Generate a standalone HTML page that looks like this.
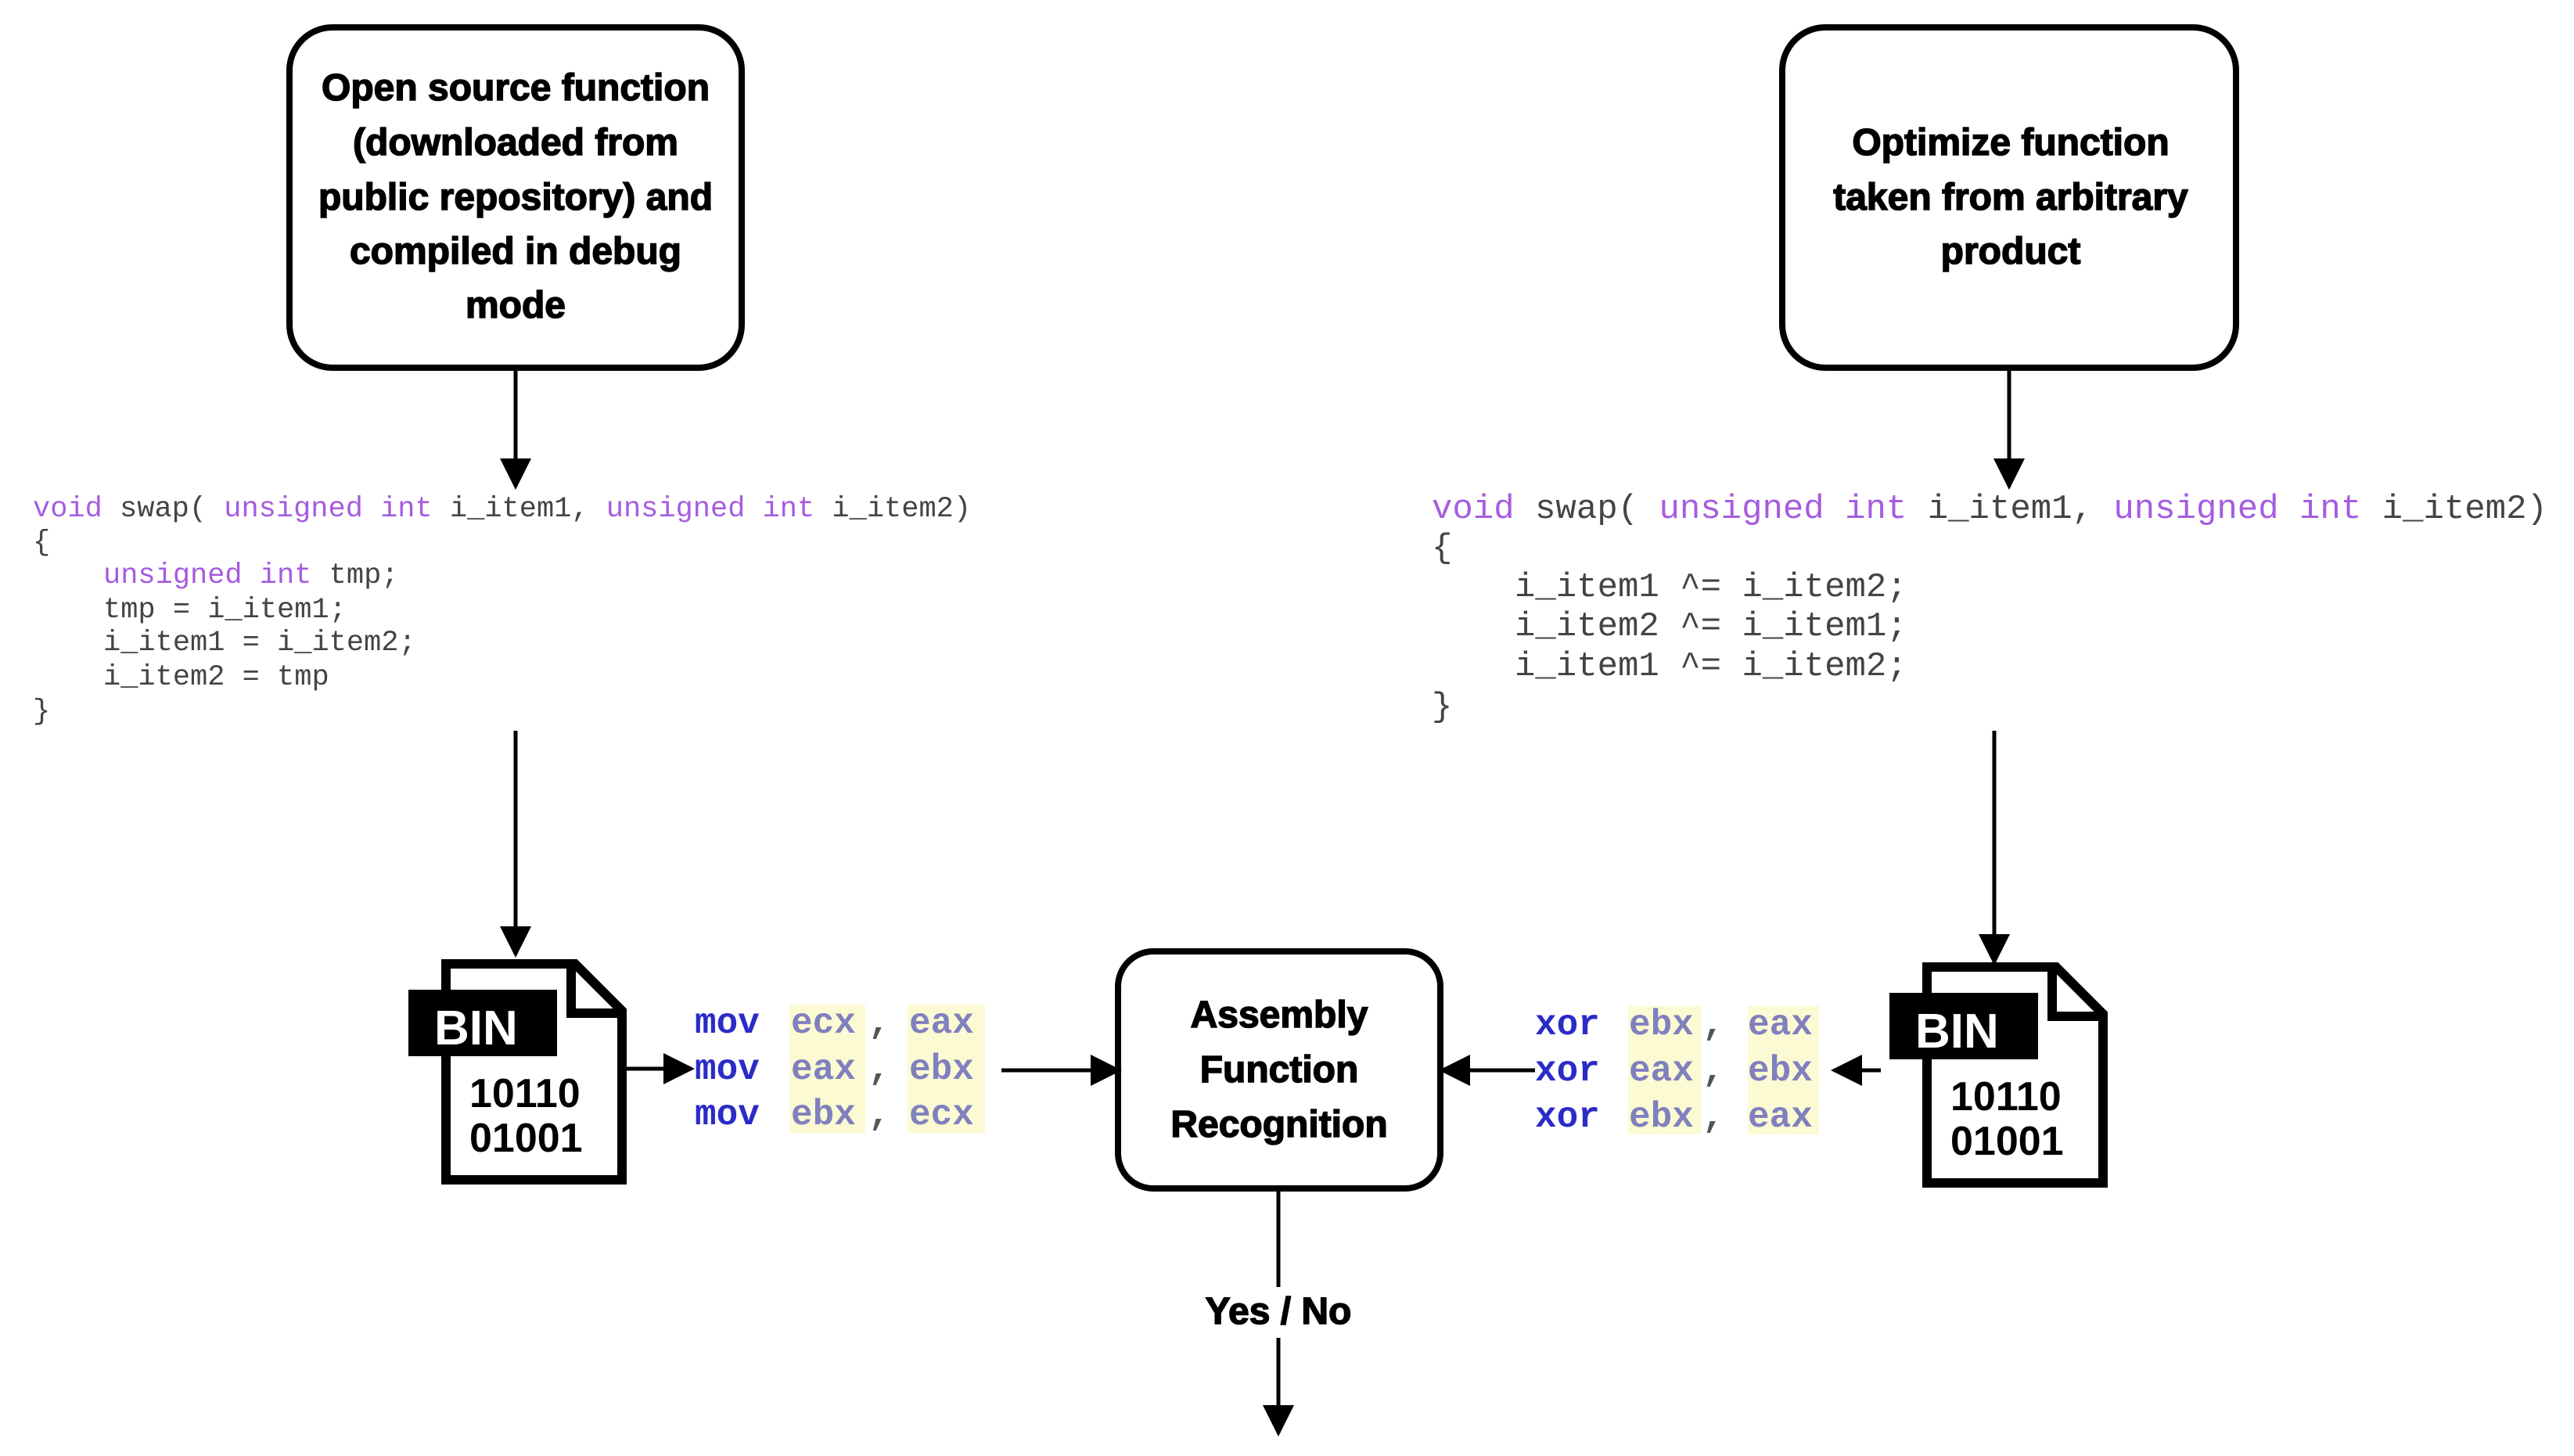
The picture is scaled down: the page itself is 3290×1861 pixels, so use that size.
<!DOCTYPE html>
<html><head><meta charset="utf-8"><style>
html,body{margin:0;padding:0;background:#fff;}
body{width:3290px;height:1861px;position:relative;overflow:hidden;}
svg{position:absolute;left:0;top:0;}
.b{font-family:"Liberation Sans",sans-serif;font-weight:bold;fill:#000;}
.m{font-family:"Liberation Mono",monospace;}
</style></head><body>
<svg width="3290" height="1861" viewBox="0 0 3290 1861">
<defs>
<marker id="ah" viewBox="0 0 10 10" refX="9" refY="5" markerWidth="8" markerHeight="8" markerUnits="strokeWidth" orient="auto"><path d="M0,0 L10,5 L0,10 z" fill="#000"/></marker>
</defs>
<rect x="370" y="35" width="578" height="435" rx="55" fill="#fff" stroke="#000" stroke-width="8"/>
<rect x="2278" y="35" width="580" height="435" rx="55" fill="#fff" stroke="#000" stroke-width="8"/>
<rect x="1429" y="1216" width="412" height="303" rx="45" fill="#fff" stroke="#000" stroke-width="8"/>
<g class="b" font-size="48" text-anchor="middle" stroke="#000" stroke-width="1.5">
<text x="659" y="128">Open source function</text>
<text x="659" y="198">(downloaded from</text>
<text x="659" y="268">public repository) and</text>
<text x="659" y="337">compiled in debug</text>
<text x="659" y="406">mode</text>
<text x="2570" y="198">Optimize function</text>
<text x="2570" y="268">taken from arbitrary</text>
<text x="2570" y="337">product</text>
<text x="1635" y="1313">Assembly</text>
<text x="1635" y="1383">Function</text>
<text x="1635" y="1453">Recognition</text>
<text x="1634" y="1692">Yes / No</text>
</g>
<g stroke="#000" stroke-width="5" fill="none" marker-end="url(#ah)">
<line x1="659" y1="472" x2="659" y2="622"/>
<line x1="2568" y1="472" x2="2568" y2="622"/>
<line x1="659" y1="934" x2="659" y2="1220"/>
<line x1="2549" y1="934" x2="2549" y2="1230"/>
<line x1="797" y1="1366" x2="884" y2="1366"/>
<line x1="1280" y1="1368" x2="1430" y2="1368"/>
<line x1="1962" y1="1368" x2="1843" y2="1368"/>
<line x1="2404" y1="1368" x2="2344" y2="1368"/>
<line x1="1634" y1="1710" x2="1634" y2="1832"/>
</g>
<line x1="1634" y1="1521" x2="1634" y2="1645" stroke="#000" stroke-width="5"/>
<g class="m" font-size="37" fill="#444">
<text x="42" y="660"><tspan fill="#a55ce0">void</tspan> swap( <tspan fill="#a55ce0">unsigned int</tspan> i_item1, <tspan fill="#a55ce0">unsigned int</tspan> i_item2)</text>
<text x="42" y="703">{</text>
<text x="132" y="745" fill="#a55ce0">unsigned int <tspan fill="#444">tmp;</tspan></text>
<text x="132" y="789">tmp = i_item1;</text>
<text x="132" y="831">i_item1 = i_item2;</text>
<text x="132" y="875">i_item2 = tmp</text>
<text x="42" y="919">}</text>
</g>
<g class="m" font-size="44" fill="#444">
<text x="1830" y="662"><tspan fill="#a55ce0">void</tspan> swap( <tspan fill="#a55ce0">unsigned int</tspan> i_item1, <tspan fill="#a55ce0">unsigned int</tspan> i_item2)</text>
<text x="1830" y="712">{</text>
<text x="1936" y="762">i_item1 ^= i_item2;</text>
<text x="1936" y="812">i_item2 ^= i_item1;</text>
<text x="1936" y="863">i_item1 ^= i_item2;</text>
<text x="1830" y="915">}</text>
</g>
<g fill="#fcfad2">
<rect x="1009" y="1284" width="97" height="164"/>
<rect x="1160" y="1284" width="99" height="164"/>
<rect x="2081" y="1286" width="93" height="164"/>
<rect x="2234" y="1286" width="91" height="164"/>
</g>
<g class="m" font-size="46" font-weight="bold">
<text x="888" y="1320" fill="#2b2bc8">mov</text><text x="1011" y="1320" fill="#8080bf">ecx</text><text x="1110" y="1320" fill="#555">,</text><text x="1162" y="1320" fill="#8080bf">eax</text>
<text x="888" y="1379" fill="#2b2bc8">mov</text><text x="1011" y="1379" fill="#8080bf">eax</text><text x="1110" y="1379" fill="#555">,</text><text x="1162" y="1379" fill="#8080bf">ebx</text>
<text x="888" y="1437" fill="#2b2bc8">mov</text><text x="1011" y="1437" fill="#8080bf">ebx</text><text x="1110" y="1437" fill="#555">,</text><text x="1162" y="1437" fill="#8080bf">ecx</text>
<text x="1962" y="1322" fill="#2b2bc8">xor</text><text x="2082" y="1322" fill="#8080bf">ebx</text><text x="2176" y="1322" fill="#555">,</text><text x="2234" y="1322" fill="#8080bf">eax</text>
<text x="1962" y="1381" fill="#2b2bc8">xor</text><text x="2082" y="1381" fill="#8080bf">eax</text><text x="2176" y="1381" fill="#555">,</text><text x="2234" y="1381" fill="#8080bf">ebx</text>
<text x="1962" y="1440" fill="#2b2bc8">xor</text><text x="2082" y="1440" fill="#8080bf">ebx</text><text x="2176" y="1440" fill="#555">,</text><text x="2234" y="1440" fill="#8080bf">eax</text>
</g>
<g>
<path d="M570,1232 L735,1232 L795,1292 L795,1508 L570,1508 Z" fill="#fff" stroke="#000" stroke-width="12"/>
<path d="M730,1232 L730,1295 L795,1295" fill="none" stroke="#000" stroke-width="12"/>
<rect x="522" y="1265" width="190" height="85" fill="#000"/>
<text class="b" x="555" y="1335" font-size="62" style="fill:#fff">BIN</text>
<text class="b" x="600" y="1415" font-size="52">10110</text>
<text class="b" x="600" y="1472" font-size="52">01001</text>
</g>
<g transform="translate(1893,4)">
<path d="M570,1232 L735,1232 L795,1292 L795,1508 L570,1508 Z" fill="#fff" stroke="#000" stroke-width="12"/>
<path d="M730,1232 L730,1295 L795,1295" fill="none" stroke="#000" stroke-width="12"/>
<rect x="522" y="1265" width="190" height="85" fill="#000"/>
<text class="b" x="555" y="1335" font-size="62" style="fill:#fff">BIN</text>
<text class="b" x="600" y="1415" font-size="52">10110</text>
<text class="b" x="600" y="1472" font-size="52">01001</text>
</g>
</svg>
</body></html>
